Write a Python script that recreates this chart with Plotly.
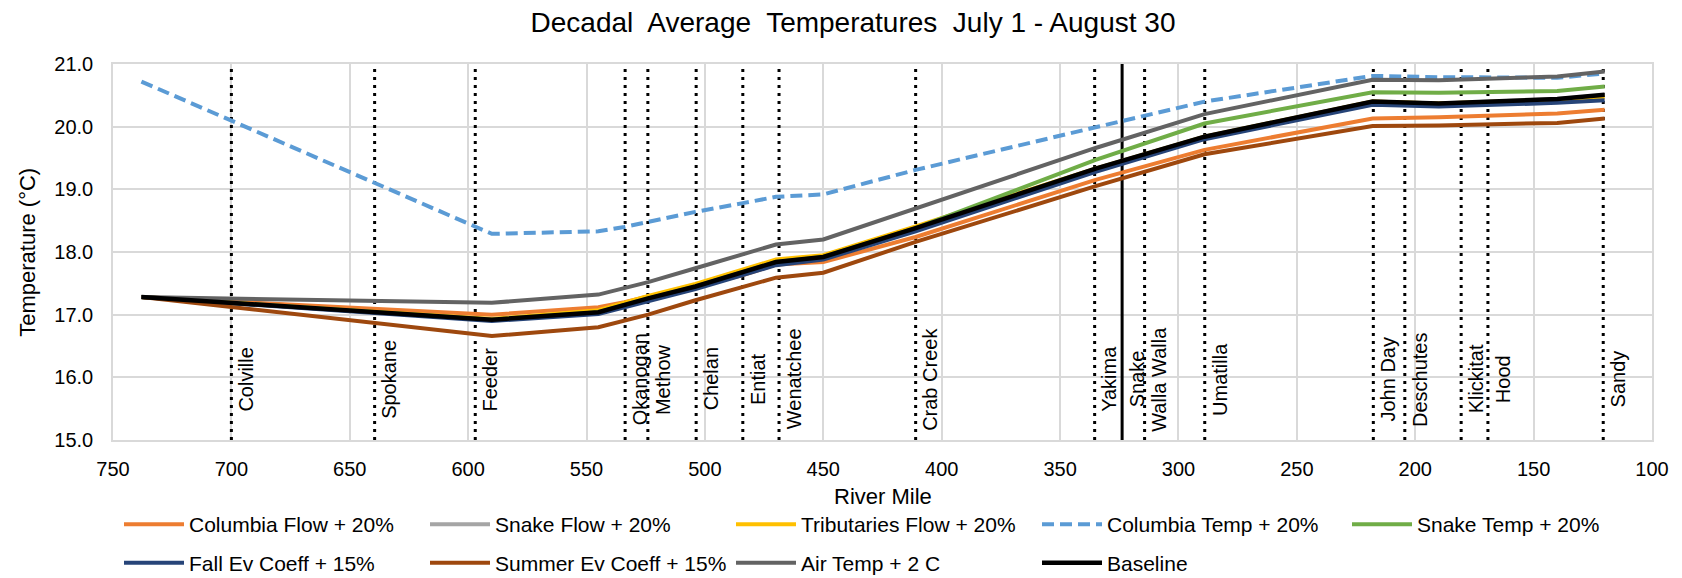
import plotly.graph_objects as go

# river miles of the model output points
miles = [738, 590, 545, 534, 524, 504, 484, 470, 450, 411, 335, 289, 218, 190, 140, 120]

columbia_flow = [17.28, 17.00, 17.12, 17.20, 17.29, 17.45, 17.63, 17.80, 17.84, 18.24, 19.15, 19.63, 20.13, 20.15, 20.21, 20.27]
snake_flow = [17.28, 16.92, 17.04, 17.16, 17.26, 17.45, 17.67, 17.84, 17.92, 18.38, 19.33, 19.84, 20.40, 20.37, 20.44, 20.50]
trib_flow = [17.28, 16.93, 17.07, 17.19, 17.30, 17.49, 17.71, 17.88, 17.95, 18.41, 19.33, 19.84, 20.40, 20.37, 20.43, 20.47]
columbia_temp = [20.72, 18.29, 18.33, 18.40, 18.48, 18.64, 18.78, 18.88, 18.92, 19.31, 19.99, 20.40, 20.81, 20.79, 20.78, 20.85]
snake_temp = [17.28, 16.92, 17.04, 17.16, 17.26, 17.45, 17.67, 17.84, 17.92, 18.38, 19.47, 20.05, 20.55, 20.54, 20.57, 20.64]
fall_ev = [17.28, 16.90, 17.01, 17.12, 17.22, 17.41, 17.63, 17.79, 17.88, 18.33, 19.28, 19.80, 20.35, 20.32, 20.38, 20.42]
summer_ev = [17.28, 16.66, 16.80, 16.90, 17.00, 17.23, 17.44, 17.59, 17.67, 18.16, 19.05, 19.56, 20.01, 20.02, 20.06, 20.13]
air_temp = [17.28, 17.19, 17.32, 17.43, 17.52, 17.74, 17.97, 18.12, 18.20, 18.69, 19.66, 20.20, 20.75, 20.74, 20.80, 20.88]
baseline = [17.28, 16.92, 17.04, 17.16, 17.26, 17.45, 17.67, 17.84, 17.92, 18.38, 19.33, 19.84, 20.40, 20.37, 20.44, 20.51]

# tributary confluences
trib_names = ['Colville', 'Spokane', 'Feeder', 'Okanogan', 'Methow', 'Chelan', 'Entiat',
              'Wenatchee', 'Crab Creek', 'Yakima', 'Snake', 'Walla Walla', 'Umatilla',
              'John Day', 'Deschutes', 'Klickitat', 'Hood', 'Sandy']
trib_miles = [700, 639.5, 597, 533.7, 524.1, 503.7, 484, 468.7, 411, 335.4, 323.8, 314.3,
              288.9, 217.7, 204.4, 180.6, 169.3, 120.6]

FONT = 'Liberation Sans, Arial, sans-serif'
W, H = 1682, 578

# legend rows: first four columns of row 1, row 2, and the fifth column of row 1
series = [
    ('Columbia Flow + 20%', columbia_flow, '#ED7D31', 'solid', 4, 'legend'),
    ('Snake Flow + 20%', snake_flow, '#A5A5A5', 'solid', 4, 'legend'),
    ('Tributaries Flow + 20%', trib_flow, '#FFC000', 'solid', 4, 'legend'),
    ('Columbia Temp + 20%', columbia_temp, '#5B9BD5', '12px,6px', 4, 'legend'),
    ('Snake Temp + 20%', snake_temp, '#70AD47', 'solid', 4, 'legend3'),
    ('Fall Ev Coeff + 15%', fall_ev, '#264478', 'solid', 4, 'legend2'),
    ('Summer Ev Coeff + 15%', summer_ev, '#9E480E', 'solid', 4, 'legend2'),
    ('Air Temp + 2 C', air_temp, '#636363', 'solid', 4, 'legend2'),
    ('Baseline', baseline, '#000000', 'solid', 4.5, 'legend2'),
]

fig = go.Figure()

# tributary markers
for name, m in zip(trib_names, trib_miles):
    if name == 'Snake':
        line = dict(color='black', width=3)
    else:
        line = dict(color='black', width=3, dash='3px,5px')
    fig.add_trace(go.Scatter(x=[m, m], y=[15, 21], mode='lines', line=line,
                             showlegend=False, hoverinfo='skip'))
    fig.add_annotation(x=m, y=15.97, text=name, textangle=-90, showarrow=False,
                       xanchor='left', yanchor='middle', xshift=2,
                       font=dict(family=FONT, size=20, color='black'))

for name, vals, color, dash, w, leg in series:
    fig.add_trace(go.Scatter(x=miles, y=vals, mode='lines', name=name, legend=leg,
                             line=dict(color=color, width=w, dash=dash)))

legend_common = dict(orientation='h', xref='container', yref='container',
                     x=119 / W, xanchor='left', yanchor='middle',
                     entrywidth=231, entrywidthmode='pixels', itemwidth=60,
                     font=dict(family=FONT, size=21, color='black'),
                     bgcolor='rgba(0,0,0,0)')

# axis titles
fig.add_annotation(x=0.5, y=-0.149, xref='paper', yref='paper', text='River Mile',
                   showarrow=False, xanchor='center', yanchor='middle',
                   font=dict(family=FONT, size=22, color='black'))
fig.add_annotation(x=-0.056, y=0.5, xref='paper', yref='paper', text='Temperature (°C)',
                   textangle=-90, showarrow=False, xanchor='center', yanchor='middle',
                   font=dict(family=FONT, size=22, color='black'))

fig.update_layout(
    width=W, height=H,
    paper_bgcolor='white', plot_bgcolor='white',
    margin=dict(l=113, r=30, t=64, b=138, autoexpand=False),
    font=dict(family=FONT, size=20, color='#000000'),
    title=dict(text='Decadal  Average  Temperatures  July 1 - August 30',
               x=853 / W, xref='container', xanchor='center',
               y=1 - 22 / H, yref='container', yanchor='middle',
               font=dict(family=FONT, size=28, color='black')),
    showlegend=True,
    legend=dict(legend_common, y=1 - 524.5 / H),
    legend2=dict(legend_common, y=1 - 563 / H),
    legend3=dict(legend_common, x=(119 + 4 * 307) / W, y=1 - 524.5 / H),
)

fig.update_xaxes(range=[750, 100], dtick=50, tick0=100, showgrid=True, gridcolor='#D9D9D9',
                 gridwidth=1.5, showline=True, mirror=True, linecolor='#D9D9D9', linewidth=1.5,
                 zeroline=False, ticks='', tickfont=dict(size=20), ticklabelstandoff=10,
                 automargin=False)
fig.update_yaxes(range=[15, 21], dtick=1, tickformat='.1f', showgrid=True, gridcolor='#D9D9D9',
                 gridwidth=1.5, showline=True, mirror=True, linecolor='#D9D9D9', linewidth=1.5,
                 zeroline=False, ticks='', tickfont=dict(size=20), ticklabelstandoff=14,
                 automargin=False)

fig.write_html('out.html', config={'displayModeBar': False},
               post_script="document.body.style.margin='0';")
